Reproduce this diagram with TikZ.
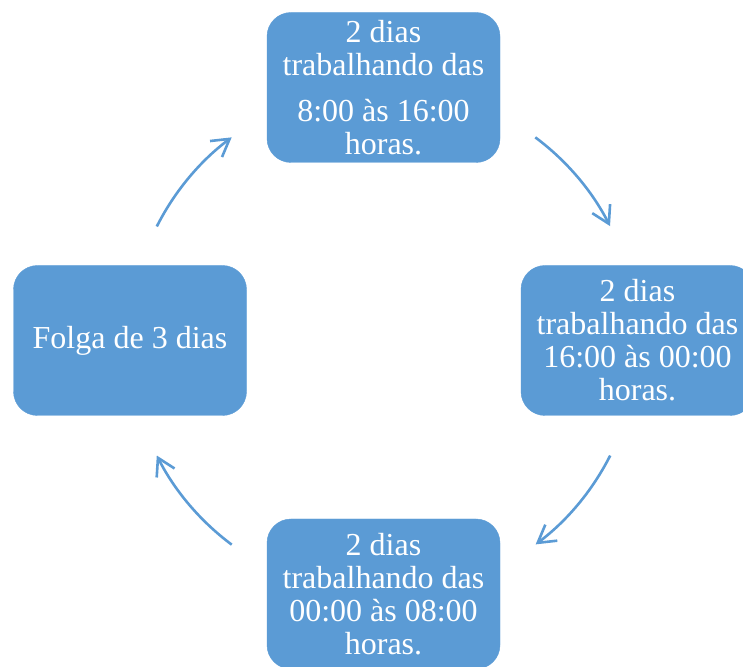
\documentclass[tikz,border=0pt]{standalone}
\usepackage{fontspec}
\setmainfont{Liberation Serif}
\usetikzlibrary{arrows.meta}
\definecolor{accent}{RGB}{91,155,213}
\begin{document}
\begin{tikzpicture}[x=1pt,y=1pt,
  cyclebox/.style={draw=accent,fill=accent,rounded corners=24pt,minimum width=233pt,minimum height=150pt,
    text=white,align=center,inner sep=0pt,font=\fontsize{32}{33}\selectfont},
  cyclearrow/.style={draw=accent,line width=2.6pt,-{Straight Barb[length=17pt,width=20pt]}}]
\useasboundingbox (0,0) rectangle (743,666);
\coordinate (C) at (383.5,325);
\node[cyclebox] (top) at (383.5,578.5) {2 dias\\trabalhando das\\[13pt]8:00 às 16:00\\horas.};
\node[cyclebox] (right) at (637.5,325.5) {2 dias\\trabalhando das\\16:00 às 00:00\\horas.};
\node[cyclebox] (bottom) at (383.5,72) {2 dias\\trabalhando das\\00:00 às 08:00\\horas.};
\node[cyclebox] (left) at (130,325.5) {Folga de 3 dias};
\coordinate (a1) at ([shift={(C)}]53.3:254);
\coordinate (a2) at ([shift={(C)}]-26.8:254);
\coordinate (a3) at ([shift={(C)}]233.3:254);
\coordinate (a4) at ([shift={(C)}]153.2:254);
\draw[cyclearrow] (a1) arc[start angle=53.3,end angle=26.9,radius=254];
\draw[cyclearrow] (a2) arc[start angle=-26.8,end angle=-53.2,radius=254];
\draw[cyclearrow] (a3) arc[start angle=233.3,end angle=206.8,radius=254];
\draw[cyclearrow] (a4) arc[start angle=153.2,end angle=126.7,radius=254];
\end{tikzpicture}
\end{document}
